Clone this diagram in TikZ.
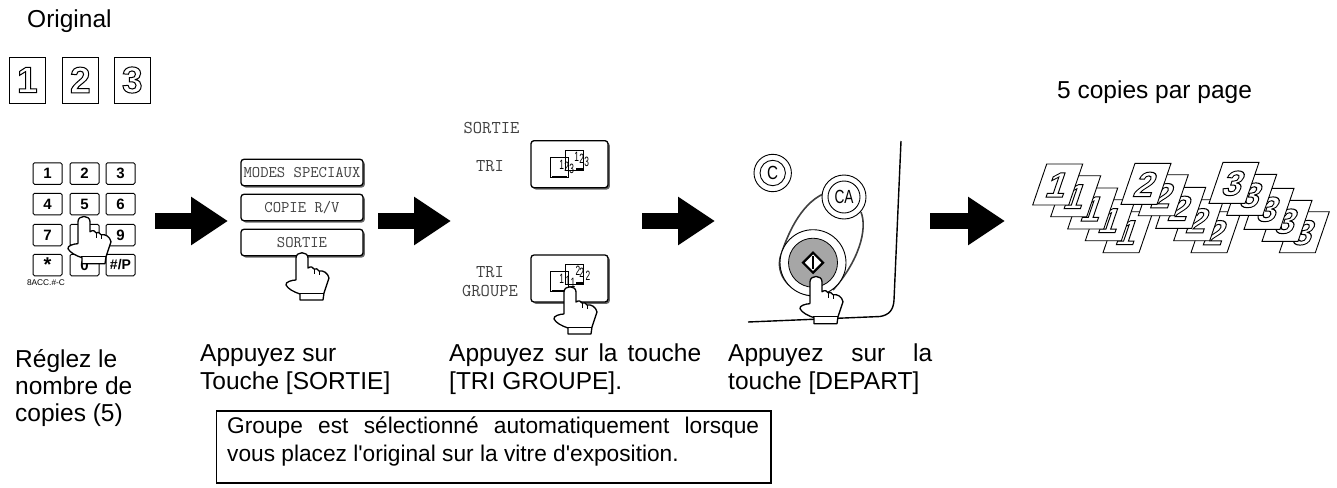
\documentclass[tikz,border=0pt]{standalone}
\usepackage{fontspec}
\setmainfont{Liberation Sans}
\usetikzlibrary{arrows.meta,shadows}

\newcommand{\hollow}[1]{\special{pdf:code 1 Tr 1 w}#1\special{pdf:code 0 Tr 1 w}}
\newcommand{\fitline}[2]{\makebox[#1][s]{#2}}
\newcommand{\thindigit}[1]{\scalebox{.62}[1]{#1}}

\tikzset{
    label/.style={anchor=base west,inner sep=0pt,font=\fontsize{24.5}{29}\selectfont},
    notelabel/.style={anchor=base west,inner sep=0pt,font=\fontsize{22.7}{27}\selectfont},
    monolabel/.style={inner sep=0pt,text=black!75,align=center,font=\fontsize{18}{19}\selectfont\ttfamily},
    keybox/.style={draw,line width=1,rounded corners=1.5,minimum width=29,minimum height=21.5,inner sep=0pt,font=\fontsize{15}{15}\selectfont\bfseries},
    menubox/.style={draw,fill=white,line width=1.3,rounded corners=3,minimum width=122,minimum height=26.5,inner sep=0pt,text=black!75,
        font=\fontsize{16.2}{16}\selectfont\ttfamily,general shadow={shadow xshift=1.8pt,shadow yshift=-1.8pt,fill=black!60}},
    trayboxstyle/.style={draw,fill=white,line width=1.3,rounded corners=3,minimum width=77,minimum height=47,inner sep=0pt,
        general shadow={shadow xshift=1.8pt,shadow yshift=-1.8pt,fill=black!60}},
    paperbox/.style={draw,line width=.9,minimum width=36,minimum height=46,inner sep=0pt,font=\fontsize{37}{37}\selectfont\bfseries},
    sheet/.style={draw,fill=white,line width=.9},
    slantdigit/.style={inner sep=0pt,transform shape,xslant=.34,font=\fontsize{35}{35}\selectfont\bfseries},
    tinydigit/.style={inner sep=0pt,font=\fontsize{13.5}{14}\selectfont},
    bigarrow/.style={line width=16,-{Triangle[length=37pt,width=46pt]}},
    roundkey/.style={draw,circle,fill=white,line width=.9,inner sep=0pt},
    pointer/.pic={
        \filldraw[fill=white,line width=1.3,line join=round] (-6,27) -- (-6,5) .. controls (-6,-2) and (6,-2) .. (6,5) -- (6,15)
            .. controls (9,13) and (11,14) .. (12,16) .. controls (14,15) and (16,16) .. (17,18)
            .. controls (21,17) and (26,20) .. (27,25) -- (22,40) -- (21,47) -- (-2,47) -- (-2,41)
            .. controls (-8,39) and (-14,36) .. (-16,32) .. controls (-17,29) and (-10,27) .. (-6,27);
        \draw[line width=1] (-3,40) -- (22,40);
        \draw[line width=1] (12,16) -- (12,21) (17,18) -- (17,22);
    }
}

% two small sheets with the digits running down
\newcommand{\trayicon}[4]{
    \draw[line width=.9] (#1+20,#2+9) rectangle (#1+38,#2+29);
    \draw[line width=.9] (#1+35,#2+2) rectangle (#1+53,#2+22);
    \fill (#1+22,#2+28) rectangle (#1+37,#2+30);
    \fill (#1+46,#2+20) rectangle (#1+54,#2+23);
    \node[tinydigit] (#4a1) at (#1+31.7,#2+17) {\thindigit{#3}};
    \node[tinydigit] (#4a2) at (#1+36.7,#2+19) {\thindigit{\ifx#4g 1\else 2\fi}};
    \node[tinydigit] (#4a3) at (#1+41.7,#2+20.5) {\thindigit{\ifx#4g 1\else 3\fi}};
    \node[tinydigit] (#4b1) at (#1+46.7,#2+9) {\thindigit{\ifx#4g 2\else 1\fi}};
    \node[tinydigit] (#4b2) at (#1+51.7,#2+11) {\thindigit{2}};
    \node[tinydigit] (#4b3) at (#1+56.7,#2+13.5) {\thindigit{\ifx#4g 2\else 3\fi}};
}

\begin{document}
\begin{tikzpicture}[x=1pt,y=-1pt]
    \useasboundingbox (0,0) rectangle (1337,487);

    \node[label] (original) at (27,28) {Original};
    \foreach \n/\cx in {1/27.3,2/80.3,3/132.3}
        \node[paperbox] (page\n) at (\cx,80) {\hollow{\n}};

    % keypad
    \foreach \k/\cx/\cy in {1/47.5/173.5,2/84.5/173.5,3/120.5/173.5,4/47.5/204,5/84.5/204,6/120.5/204,7/47.5/235,/84.5/235,9/120.5/235,0/84.5/265}
        \node[keybox] (key\k) at (\cx,\cy) {\k};
    \node[keybox,font=\fontsize{20}{20}\selectfont\bfseries] (keystar) at (47.5,265) {*};
    \node[keybox,font=\fontsize{14}{14}\selectfont\bfseries] (keyhash) at (120.5,265) {\#/P};
    \node[inner sep=0pt,font=\fontsize{8.3}{8}\selectfont] (acc) at (46,282.5) {8ACC.\#-C};
    \pic at (84,216.7) {pointer};

    % menu
    \node[menubox] (modes) at (302,172.5) {MODES SPECIAUX};
    \node[menubox] (copie) at (302,207.5) {COPIE R/V};
    \node[menubox] (sortie) at (302,242.5) {SORTIE};
    \pic at (302,253) {pointer};

    % tri and groupe
    \node[monolabel] (sortietitle) at (491.5,128) {SORTIE};
    \node[monolabel] (tri) at (490,165.7) {TRI};
    \node[monolabel] (trigroupe) at (490,282) {TRI\\GROUPE};
    \node[trayboxstyle] (traya) at (569.5,164.2) {};
    \node[trayboxstyle] (trayb) at (569.5,278.5) {};
    \trayicon{530}{148}{1}{t}
    \trayicon{530}{262}{1}{g}
    \pic at (570,287) {pointer};

    % control panel
    \draw[line width=1.4] (901,141) -- (894,300) .. controls (893.5,310) and (889,315) .. (880,316.5) -- (748,322);
    \draw[line width=1.6,black!75] (823,194) .. controls (800,205) and (787,235) .. (780,258)
        .. controls (776,280) and (795,293) .. (812,296);
    \draw[line width=1.6,black!75] (861,212) .. controls (868,230) and (858,262) .. (833,290);
    \node[roundkey,minimum size=37.4] (clearout) at (772.7,173) {};
    \node[roundkey,minimum size=25.4,font=\fontsize{19}{19}\selectfont] (clear) at (772.7,173) {\scalebox{.8}[1]{C}};
    \node[roundkey,minimum size=44] (caout) at (844,197) {};
    \node[roundkey,minimum size=32,font=\fontsize{19}{19}\selectfont] (ca) at (844,197) {\scalebox{.72}[1]{CA}};
    \node[roundkey,minimum size=66] (startout) at (813,262.7) {};
    \node[draw,circle,fill=black!35,line width=.8,minimum size=49,inner sep=0pt] (start) at (813,262.7) {};
    \draw[fill=white,line width=2.2] (803,262.7) -- (813,252.7) -- (823,262.7) -- (813,272.7) -- cycle;
    \draw[line width=2.2] (813,256) -- (813,269);
    \pic at (816,276.7) {pointer};

    % stacks of copies
    \foreach \n/\bx/\by [count=\i] in {1/1103/252.7,1/1085.3/240.7,1/1067.7/229,1/1050.7/216.7,1/1032.7/205,
        2/1191/252.7,2/1173.7/240.7,2/1155.7/228.3,2/1138.3/215.7,2/1121/204.3,
        3/1279.3/252.7,3/1262/241.3,3/1244/229.3,3/1226.7/215.3,3/1209/203.3}{
        \draw[sheet] (\bx,\by) -- ++(36,0) -- ++(14,-41) -- ++(-36,0) -- cycle;
        \node[slantdigit] (copy\i) at (\bx+25,\by-20) {\hollow{\n}};
    }

    % arrows between the steps
    \coordinate (arrowa) at (155,221);
    \coordinate (arrowb) at (228,221);
    \coordinate (arrowc) at (378,221);
    \coordinate (arrowd) at (451,221);
    \coordinate (arrowe) at (642,221);
    \coordinate (arrowf) at (715,221);
    \coordinate (arrowg) at (930,221);
    \coordinate (arrowh) at (1005,221);
    \draw[bigarrow] (arrowa) -- (arrowb);
    \draw[bigarrow] (arrowc) -- (arrowd);
    \draw[bigarrow] (arrowe) -- (arrowf);
    \draw[bigarrow] (arrowg) -- (arrowh);

    \node[label] (copies) at (1057,98) {5 copies par page};

    % captions
    \node[label] (txta) at (15,367) {Réglez le};
    \node[label] (txtb) at (15,394) {nombre de};
    \node[label] (txtc) at (15,421.7) {copies (5)};
    \node[label] (txtd) at (200,361.7) {Appuyez sur};
    \node[label] (txte) at (200,389.3) {Touche [SORTIE]};
    \node[label] (txtf) at (449,361.7) {\fitline{252pt}{Appuyez sur la touche}};
    \node[label] (txtg) at (449,389.3) {[TRI GROUPE].};
    \node[label] (txth) at (728,361.7) {\fitline{204pt}{Appuyez sur la}};
    \node[label] (txti) at (728,389.3) {touche [DEPART]};

    \draw[line width=1.3] (216.7,411) rectangle (771,483);
    \node[notelabel] (notea) at (227,433) {\fitline{532pt}{Groupe est sélectionné automatiquement lorsque}};
    \node[notelabel] (noteb) at (227,461) {vous placez l\textquotesingle original sur la vitre d\textquotesingle exposition.};
\end{tikzpicture}
\end{document}
